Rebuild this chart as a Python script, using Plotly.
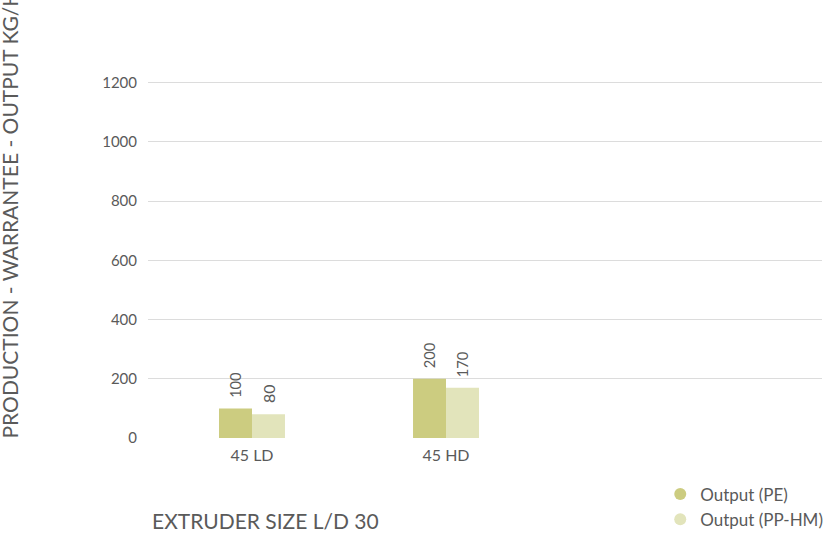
import plotly.graph_objects as go

categories = ["45 LD", "45 HD"]
output_pe = [100, 200]
output_pphm = [80, 170]
series_names = ["Output (PE)", "Output (PP-HM)"]
colors = ["#cccc80", "#e2e4bb"]
y_ticks = [0, 200, 400, 600, 800, 1000, 1200]

FONT = "Lato, 'Noto Sans', sans-serif"
TXT = "#5a5a5a"

fig = go.Figure()
for name, vals, col in zip(series_names, [output_pe, output_pphm], colors):
    fig.add_trace(go.Bar(
        x=categories, y=vals, name=name, marker=dict(color=col, line=dict(width=0)),
        text=["\u00a0\u00a0" + str(v) for v in vals], textposition="outside", textangle=-90,
        textfont=dict(size=16, color=TXT, family=FONT), cliponaxis=False,
        showlegend=False,
    ))
    fig.add_trace(go.Scatter(
        x=[None], y=[None], mode="markers", name=name,
        marker=dict(color=col, size=17, symbol="circle"),
    ))

fig.update_layout(
    width=826, height=541,
    margin=dict(l=148, r=4, t=53, b=103, autoexpand=False),
    paper_bgcolor="white", plot_bgcolor="white",
    barmode="group", bargap=0.66, bargroupgap=0,
    font=dict(family=FONT, color=TXT, size=14),
    xaxis=dict(type="category", range=[-0.536, 2.938], showgrid=False, zeroline=False,
               showline=False, ticks="", ticklabelstandoff=6,
               tickfont=dict(size=16, color=TXT)),
    yaxis=dict(range=[0, 1300], tickvals=y_ticks, showgrid=True, gridcolor="#dcdcdc",
               gridwidth=1, zeroline=False, showline=False, ticks="",
               ticklabelstandoff=10, tickfont=dict(size=15, color=TXT)),
    legend=dict(x=0.760, xanchor="left", y=-0.10, yanchor="top", bgcolor="rgba(0,0,0,0)",
                font=dict(size=17, color=TXT), itemsizing="constant", tracegroupgap=0,
                itemwidth=30),
    annotations=[
        dict(text="PRODUCTION - WARRANTEE - OUTPUT KG/H", xref="paper", yref="paper",
             x=-0.205, y=0.58, textangle=-90, showarrow=False,
             font=dict(size=21, color=TXT, family=FONT), xanchor="center", yanchor="middle"),
        dict(text="EXTRUDER SIZE L/D 30", xref="paper", yref="paper",
             x=0.003, y=-0.215, xanchor="left", yanchor="middle", showarrow=False,
             font=dict(size=21, color=TXT, family=FONT)),
    ],
)

fig.write_html("out.html", config={"displayModeBar": False},
               post_script="document.body.style.margin='0';")
